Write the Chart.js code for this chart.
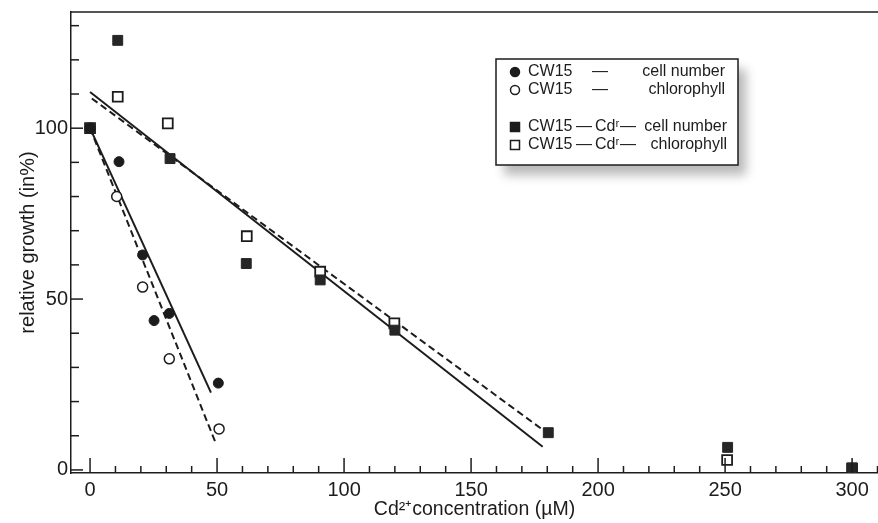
<!DOCTYPE html>
<html>
<head>
<meta charset="utf-8">
<script src="https://cdn.jsdelivr.net/npm/chart.js@4.4.1/dist/chart.umd.min.js"></script>
<style>
  html, body { margin: 0; padding: 0; background: #fff; }
  #wrap { width: 878px; height: 523px; position: relative; }
</style>
</head>
<body>
<div id="wrap"><canvas id="growthChart" width="878" height="523"></canvas></div>
<script>
// Cd2+ tolerance: relative growth of CW15 and CW15-Cd^r
// values

// CW15 - cell number (filled circles)
const cwCellX = [0, 11.4, 20.7, 25.2, 31.2, 50.5];
const cwCellY = [100, 90.2, 62.9, 43.7, 45.8, 25.4];

// CW15 - chlorophyll (open circles)
const cwChlX = [0, 10.5, 20.7, 31.2, 50.8];
const cwChlY = [100, 80.0, 53.5, 32.5, 12.0];

// CW15-Cd^r - cell number (filled squares)
const cdrCellX = [0, 10.9, 31.5, 61.5, 90.6, 120.0, 180.4, 251.0, 300.0];
const cdrCellY = [100, 125.7, 91.1, 60.4, 55.6, 40.9, 10.9, 6.6, 0.6];

// CW15-Cd^r - chlorophyll (open squares)
const cdrChlX = [0, 10.9, 30.6, 61.7, 90.6, 119.8, 250.8, 300.0];
const cdrChlY = [100, 109.2, 101.4, 68.4, 58.0, 42.9, 2.9, 0.4];

// regression lines, end points as drawn
const fitCwCellX = [0, 47.6];
const fitCwCellY = [100, 22.6];
const fitCwChlX = [0, 49.6];
const fitCwChlY = [100, 7.6];
const fitCdrCellX = [0, 178.2];
const fitCdrCellY = [110.6, 6.8];
const fitCdrChlX = [0.7, 178.3];
const fitCdrChlY = [108.7, 11.7];

// axis ticks
const xTickLabels = [0, 50, 100, 150, 200, 250, 300];
const yTickLabels = [0, 50, 100];
const X_MINOR_STEP = 10, X_TICK_END = 310;
const Y_MINOR_STEP = 10, Y_TICK_END = 130;

const FONT = '"Liberation Sans", Arial, Helvetica, sans-serif';
const INK = '#1c1c1c';

function pts(xs, ys) {
  return xs.map(function (x, i) { return { x: x, y: ys[i] }; });
}

function tickList(end, step) {
  var out = [];
  for (var v = 0; v <= end; v += step) out.push({ value: v });
  return out;
}

const legendRows = [
  { style: 'circle', filled: true, parts: ['CW15', '—', 'cell number'] },
  { style: 'circle', filled: false, parts: ['CW15', '—', 'chlorophyll'] },
  { style: 'rect', filled: true, parts: ['CW15', '—', 'Cdʳ', '—', 'cell number'] },
  { style: 'rect', filled: false, parts: ['CW15', '—', 'Cdʳ', '—', 'chlorophyll'] },
];

function drawMarker(ctx, style, filled, x, y) {
  ctx.beginPath();
  if (style === 'circle') {
    ctx.arc(x, y, 4.5, 0, Math.PI * 2);
  } else {
    ctx.rect(x - 4.5, y - 4.5, 9, 9);
  }
  ctx.fillStyle = filled ? INK : '#fff';
  ctx.fill();
  ctx.lineWidth = 1.5;
  ctx.strokeStyle = INK;
  ctx.stroke();
}

const frameTicks = {
  id: 'frameTicks',
  afterDraw: function (chart) {
    const ctx = chart.ctx;
    const area = chart.chartArea;
    const xs = chart.scales.x;
    const ys = chart.scales.y;
    ctx.save();
    ctx.strokeStyle = INK;
    ctx.lineWidth = 1.5;
    // top frame line
    ctx.beginPath();
    ctx.moveTo(area.left, area.top);
    ctx.lineTo(area.right, area.top);
    ctx.stroke();
    // inward ticks on x
    xs.ticks.forEach(function (t) {
      var px = xs.getPixelForValue(t.value);
      var len = xTickLabels.indexOf(t.value) >= 0 ? 15 : 7;
      ctx.beginPath();
      ctx.moveTo(px, area.bottom);
      ctx.lineTo(px, area.bottom - len);
      ctx.stroke();
    });
    // inward ticks on y
    ys.ticks.forEach(function (t) {
      var py = ys.getPixelForValue(t.value);
      var len = yTickLabels.indexOf(t.value) >= 0 ? 12 : 8;
      ctx.beginPath();
      ctx.moveTo(area.left, py);
      ctx.lineTo(area.left + len, py);
      ctx.stroke();
    });
    ctx.restore();
  }
};

const boxLegend = {
  id: 'boxLegend',
  afterDraw: function (chart) {
    const ctx = chart.ctx;
    const bx = 496, by = 59, bw = 242, bh = 106;
    ctx.save();
    ctx.shadowColor = 'rgba(0,0,0,0.28)';
    ctx.shadowBlur = 10;
    ctx.shadowOffsetX = 8;
    ctx.shadowOffsetY = 10;
    ctx.fillStyle = '#fff';
    ctx.fillRect(bx, by, bw, bh);
    ctx.restore();

    ctx.save();
    ctx.strokeStyle = INK;
    ctx.lineWidth = 1.5;
    ctx.strokeRect(bx, by, bw, bh);

    const rowY = [72, 90, 127, 145];
    ctx.font = '16px ' + FONT;
    ctx.fillStyle = INK;
    ctx.textBaseline = 'middle';
    legendRows.forEach(function (row, i) {
      var y = rowY[i];
      drawMarker(ctx, row.style, row.filled, 515, y);
      ctx.fillStyle = INK;
      ctx.textAlign = 'left';
      ctx.fillText(row.parts[0], 528, y);
      if (row.parts.length === 3) {
        ctx.textAlign = 'center';
        ctx.fillText(row.parts[1], 600, y);
        ctx.textAlign = 'right';
        ctx.fillText(row.parts[2], 725, y);
      } else {
        ctx.textAlign = 'left';
        ctx.fillText(row.parts[1], 576, y);
        ctx.fillText(row.parts[2], 595, y);
        ctx.fillText(row.parts[3], 620, y);
        ctx.textAlign = 'right';
        ctx.fillText(row.parts[4], 727, y);
      }
    });
    ctx.restore();
  }
};

const ctx = document.getElementById('growthChart').getContext('2d');
new Chart(ctx, {
  type: 'scatter',
  data: {
    datasets: [
      {
        label: 'CW15 - cell number',
        data: pts(cwCellX, cwCellY),
        pointStyle: 'circle',
        pointRadius: 5,
        backgroundColor: INK,
        borderColor: INK,
        borderWidth: 1,
      },
      {
        label: 'CW15-Cdr - cell number',
        data: pts(cdrCellX, cdrCellY),
        pointStyle: 'rect',
        pointRadius: 7,
        backgroundColor: '#262626',
        borderColor: '#262626',
        borderWidth: 1,
      },
      {
        label: 'CW15 - chlorophyll',
        data: pts(cwChlX, cwChlY),
        pointStyle: 'circle',
        pointRadius: 5,
        backgroundColor: '#fff',
        borderColor: INK,
        borderWidth: 1.5,
      },
      {
        label: 'CW15-Cdr - chlorophyll',
        data: pts(cdrChlX, cdrChlY),
        pointStyle: 'rect',
        pointRadius: 7,
        backgroundColor: '#fff',
        borderColor: INK,
        borderWidth: 1.8,
      },
      {
        label: 'fit CW15 cell',
        data: pts(fitCwCellX, fitCwCellY),
        showLine: true,
        pointRadius: 0,
        borderColor: INK,
        borderWidth: 2,
      },
      {
        label: 'fit CW15 chl',
        data: pts(fitCwChlX, fitCwChlY),
        showLine: true,
        pointRadius: 0,
        borderColor: INK,
        borderWidth: 2,
        borderDash: [7, 4],
      },
      {
        label: 'fit Cdr cell',
        data: pts(fitCdrCellX, fitCdrCellY),
        showLine: true,
        pointRadius: 0,
        borderColor: INK,
        borderWidth: 2,
      },
      {
        label: 'fit Cdr chl',
        data: pts(fitCdrChlX, fitCdrChlY),
        showLine: true,
        pointRadius: 0,
        borderColor: INK,
        borderWidth: 2,
        borderDash: [7, 4],
      },
    ]
  },
  options: {
    responsive: false,
    animation: false,
    layout: { autoPadding: false, padding: { top: 12, right: 0, left: 0, bottom: 0 } },
    plugins: {
      legend: { display: false },
      tooltip: { enabled: false },
    },
    scales: {
      x: {
        type: 'linear',
        min: -7.5,
        max: 310.2,
        afterBuildTicks: function (scale) {
          scale.ticks = tickList(X_TICK_END, X_MINOR_STEP);
        },
        afterFit: function (scale) {
          scale.height = 50;
          scale.paddingLeft = 0;
          scale.paddingRight = 0;
        },
        grid: { display: false, drawTicks: false },
        border: { display: true, color: INK, width: 1.5 },
        ticks: {
          color: INK,
          padding: 5,
          maxRotation: 0,
          autoSkip: false,
          font: { family: FONT, size: 20 },
          callback: function (value) {
            return xTickLabels.indexOf(value) >= 0 ? String(value) : '';
          }
        },
        title: {
          display: true,
          text: 'Cd²⁺concentration (µM)',
          color: INK,
          font: { family: FONT, size: 19.5 },
          padding: { top: 0, bottom: 2 },
        }
      },
      y: {
        type: 'linear',
        min: -0.9,
        max: 134,
        afterBuildTicks: function (scale) {
          scale.ticks = tickList(Y_TICK_END, Y_MINOR_STEP);
        },
        afterFit: function (scale) {
          scale.width = 71;
          scale.paddingTop = 0;
          scale.paddingBottom = 0;
        },
        grid: { display: false, drawTicks: false },
        border: { display: true, color: INK, width: 1.5 },
        ticks: {
          color: INK,
          padding: 3,
          autoSkip: false,
          font: { family: FONT, size: 20 },
          callback: function (value) {
            return yTickLabels.indexOf(value) >= 0 ? String(value) : '';
          }
        },
        title: {
          display: true,
          text: 'relative growth (in%)',
          color: INK,
          font: { family: FONT, size: 20 },
          padding: { top: 16, bottom: 0 },
        }
      }
    }
  },
  plugins: [frameTicks, boxLegend]
});
</script>
</body>
</html>
